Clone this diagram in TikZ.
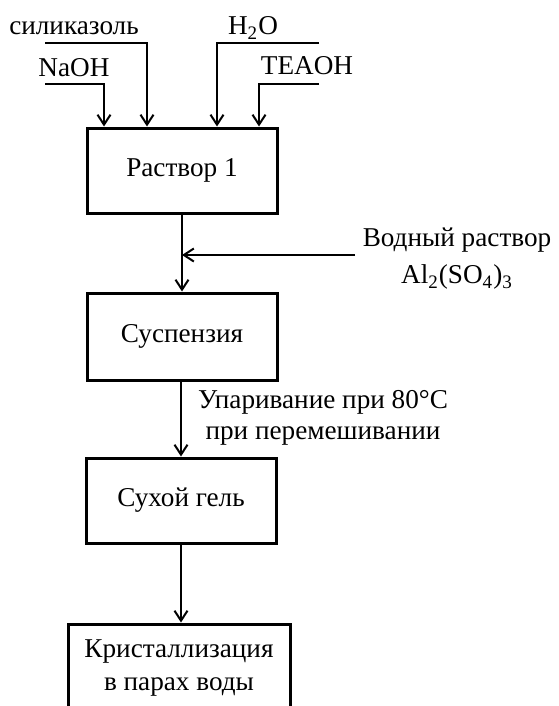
\documentclass[tikz,border=0pt]{standalone}
\usepackage{fontspec}
\setmainfont{Liberation Serif}
\usepackage{tikz}
\usetikzlibrary{arrows.meta}
\tikzstyle{stage}=[rectangle, draw=black, line width=1.5pt, fill=white, inner sep=0pt, align=center]
\tikzstyle{feed}=[-{Straight Barb[length=5pt,width=6.5pt,line width=1pt]}, draw=black, line width=1.1pt]
\tikzstyle{label}=[inner sep=0pt, align=center]
\pgfdeclarelayer{edgelayer}
\pgfdeclarelayer{nodelayer}
\pgfsetlayers{edgelayer,nodelayer,main}

\begin{document}
\begin{tikzpicture}[x=0.5pt, y=-0.5pt, font=\fontsize{13.6}{15.5}\selectfont]
            \clip (0, 0) rectangle (558, 706);
            \useasboundingbox (0, 0) rectangle (558, 706);
            \begin{pgfonlayer}{nodelayer}
                \node [style=stage, minimum width=95pt, minimum height=42.5pt] (rastvor) at (182, 170.5) {Раствор 1};
                \node [style=stage, minimum width=95pt, minimum height=43.5pt] (suspenz) at (182, 336.5) {Суспензия};
                \node [style=stage, minimum width=95pt, minimum height=42.5pt] (gel) at (181, 500.5) {Сухой гель};
                \node [style=stage, minimum width=111pt, minimum height=44pt] (kristal) at (179, 668) {Кристаллизация\\[1pt]в парах воды};

                \node [style=label, anchor=base] (silika) at (74, 35) {силиказоль};
                \node [style=label, anchor=base] (naoh) at (74, 77) {NaOH};
                \node [style=label, anchor=base] (water) at (253, 35) {H\textsubscript{2}O};
                \node [style=label, anchor=base] (teaoh) at (307, 75) {TEAOH};
                \node [style=label] (aluminium) at (457, 259) {Водный раствор\\[3pt]Al\textsubscript{2}(SO\textsubscript{4})\textsubscript{3}};
                \node [style=label] (upar) at (323, 418) {Упаривание при 80\textdegree C\\[0pt]при перемешивании};

                \coordinate (silika-in) at (45, 43);
                \coordinate (silika-bend) at (147, 43);
                \coordinate (naoh-in) at (45, 84);
                \coordinate (naoh-bend) at (104, 84);
                \coordinate (water-in) at (319, 43);
                \coordinate (water-bend) at (217, 43);
                \coordinate (teaoh-in) at (319, 84);
                \coordinate (teaoh-bend) at (259, 84);
                \coordinate (al-in) at (355, 255);
            \end{pgfonlayer}
            \begin{pgfonlayer}{edgelayer}
                \draw [style=feed] (naoh-in) -- (naoh-bend) -- (naoh-bend |- rastvor.north);
                \draw [style=feed] (silika-in) -- (silika-bend) -- (silika-bend |- rastvor.north);
                \draw [style=feed] (water-in) -- (water-bend) -- (water-bend |- rastvor.north);
                \draw [style=feed] (teaoh-in) -- (teaoh-bend) -- (teaoh-bend |- rastvor.north);

                \draw [style=feed] (rastvor) -- (suspenz);
                \draw [style=feed] (al-in) -- (rastvor.south |- al-in);
                \draw [style=feed] (suspenz.south -| gel.north) -- (gel);
                \draw [style=feed] (gel) -- (gel |- kristal.north);
            \end{pgfonlayer}
        \end{tikzpicture}
\end{document}
